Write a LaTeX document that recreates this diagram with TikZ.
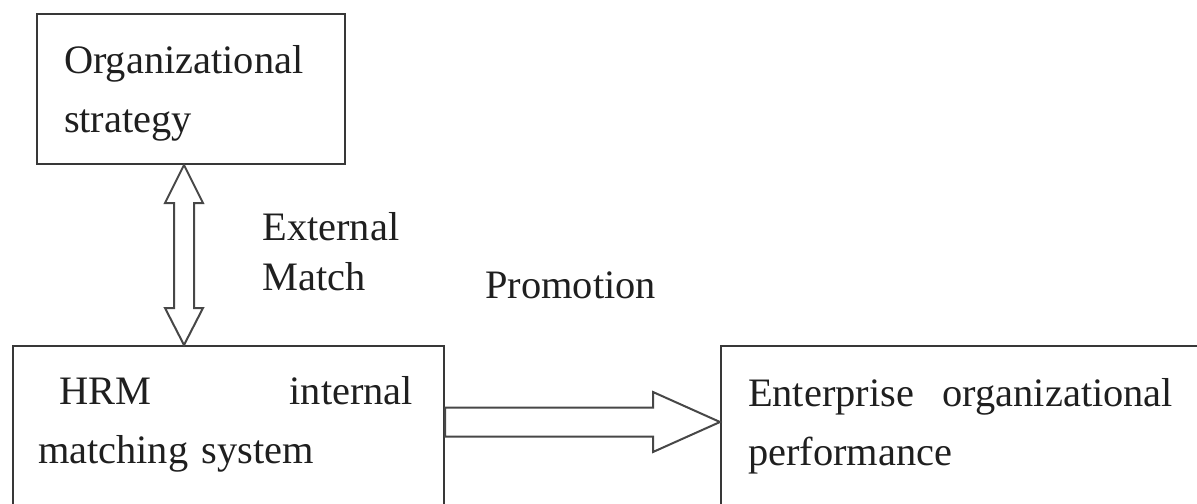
\documentclass[tikz,border=0pt]{standalone}
\usepackage{fontspec}
\setmainfont{Liberation Serif}
\usetikzlibrary{calc}

\begin{document}
\begin{tikzpicture}[
  x=0.5pt, y=-0.5pt,
  font=\fontsize{20.2pt}{29.5pt}\selectfont,
  box/.style={draw=black!78, line width=1pt, anchor=north west, align=left, inner ysep=9pt, text=black!88},
  lbl/.style={anchor=base west, inner sep=0pt, text=black!88},
  blockarrow/.style={draw=black!72, line width=1pt, line join=miter, fill=white}
]
\useasboundingbox (0,0) rectangle (1197,503);

\node[box, inner xsep=13.5pt, text width=127pt, text height=20.5pt, text depth=36.5pt] (strat) at (36,13)
  {Organizational\\strategy};
\node[box, inner xsep=12.5pt, text width=190.5pt, text height=20pt, text depth=60pt] (hrm) at (12,345)
  {\hspace*{10.5pt}HRM\hfill internal\hspace*{3pt}\mbox{}\\matching system};
\node[box, inner xsep=13.5pt, text width=260pt, text height=21pt, text depth=60pt] (perf) at (720,345)
  {Enterprise\hfill organizational\hspace*{47.5pt}\mbox{}\\performance};

\node[lbl] (ext) at (262,240) {External};
\node[lbl] (match) at (262,290) {Match};
\node[lbl] (promo) at (485,298) {Promotion};

\coordinate (ua) at ($(strat.south)+(-7,0)$);
\coordinate (ub) at (ua |- hrm.north);
\draw[blockarrow] (ua) -- ++(19,38) -- ++(-9,0) -- ($(ub)+(10,-37)$) -- ++(9,0) -- (ub)
  -- ++(-19,-37) -- ++(9,0) -- ($(ua)+(-10,38)$) -- ++(-9,0) -- cycle;

\coordinate (ra) at ($(hrm.north east)+(0,77)$);
\coordinate (rb) at (ra -| perf.west);
\draw[blockarrow] ($(ra)+(0,-14.5)$) -- ($(rb)+(-67,-14.5)$) -- ++(0,-15.5) -- (rb)
  -- ++(-67,30) -- ++(0,-15.5) -- ($(ra)+(0,14.5)$) -- cycle;

\end{tikzpicture}
\end{document}
